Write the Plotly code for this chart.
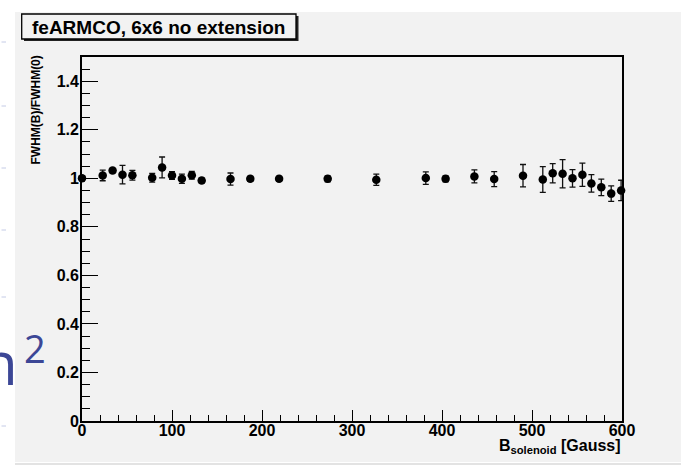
import plotly.graph_objects as go

# Field scan: FWHM ratio vs solenoid field
b_field = [0, 23, 34, 45, 56, 78, 89, 100, 111, 122, 133, 165, 187, 219, 273,
           327, 382, 404, 436, 458, 490, 512, 523, 534, 545, 556, 566, 577, 588, 599]
fwhm_ratio = [1.000, 1.012, 1.032, 1.015, 1.013, 1.002, 1.045, 1.012, 0.998, 1.013,
              0.991, 0.997, 0.998, 0.998, 0.998, 0.994, 1.001, 0.998, 1.008, 0.997,
              1.011, 0.995, 1.021, 1.019, 1.000, 1.015, 0.979, 0.963, 0.937, 0.950]
fwhm_err = [0.010, 0.022, 0.008, 0.038, 0.020, 0.018, 0.043, 0.016, 0.019, 0.016,
            0.010, 0.025, 0.010, 0.010, 0.012, 0.023, 0.026, 0.012, 0.027, 0.031,
            0.046, 0.053, 0.040, 0.058, 0.036, 0.048, 0.036, 0.034, 0.032, 0.042]

x_ticks = [0, 100, 200, 300, 400, 500, 600]
y_ticks = [0, 0.2, 0.4, 0.6, 0.8, 1.0, 1.2, 1.4]

W, H = 681, 468
L, R, T, B = 82, 59, 57, 47
PW, PH = W - L - R, H - T - B


def px(x):
    return (x - L) / PW


def py(y):
    return (H - B - y) / PH


BG = "#f2f2f2"
FONT = "Liberation Sans"

fig = go.Figure()
fig.add_trace(go.Scatter(
    x=b_field, y=fwhm_ratio, mode="markers",
    marker=dict(color="black", size=8.5),
    error_y=dict(type="data", array=fwhm_err, color="#111", thickness=1.3, width=3),
    cliponaxis=False, showlegend=False,
))

shapes = [
    # canvas background
    dict(type="rect", xref="paper", yref="paper", x0=px(15), x1=px(W + 5),
         y0=py(462), y1=py(12), fillcolor=BG, line=dict(width=0), layer="below"),
    dict(type="line", xref="paper", yref="paper", x0=px(15), x1=px(W + 5),
         y0=py(464), y1=py(464), line=dict(color="#c8c8c8", width=1.2)),
    # title box shadow and frame
    dict(type="rect", xref="paper", yref="paper", x0=px(24), x1=px(298.5),
         y0=py(41), y1=py(16), fillcolor="#222", line=dict(width=0)),
    dict(type="rect", xref="paper", yref="paper", x0=px(21.7), x1=px(296),
         y0=py(39), y1=py(14), fillcolor=BG, line=dict(color="black", width=1.3)),
]
# faint dashes along the left margin
for yy in [42, 106, 168, 230, 297, 426]:
    shapes.append(dict(type="line", xref="paper", yref="paper", x0=px(1.5), x1=px(6),
                       y0=py(yy), y1=py(yy), line=dict(color="#c4cbe6", width=1)))

annotations = [
    dict(text="feARMCO, 6x6 no extension", xref="paper", yref="paper",
         x=px(158), y=py(27), xanchor="center", yanchor="middle", showarrow=False,
         font=dict(family=FONT, size=19, color="black", weight="bold")),
    dict(text="FWHM(B)/FWHM(0)", xref="paper", yref="paper", textangle=-90,
         x=px(35), y=py(54), xanchor="center", yanchor="top", showarrow=False,
         font=dict(family=FONT, size=12, color="black", weight="bold")),
    dict(text="B<sub>solenoid</sub> [Gauss]", xref="paper", yref="paper",
         x=px(623), y=py(435), xanchor="right", yanchor="top", showarrow=False,
         font=dict(family=FONT, size=16, color="black", weight="bold")),
    dict(text="n", xref="paper", yref="paper",
         x=px(20), y=py(405), xanchor="right", yanchor="bottom", showarrow=False,
         font=dict(family="Open Sans", size=60, color="#3c4796")),
    dict(text="2", xref="paper", yref="paper",
         x=px(22), y=py(376), xanchor="left", yanchor="bottom", showarrow=False,
         font=dict(family="Open Sans", size=38, color="#3c4796")),
]

tickfont = dict(family=FONT, size=16, color="black", weight="bold")

fig.update_layout(
    width=W, height=H,
    margin=dict(l=L, r=R, t=T, b=B, pad=0),
    paper_bgcolor="white", plot_bgcolor="rgba(0,0,0,0)",
    shapes=shapes, annotations=annotations,
    xaxis=dict(range=[0, 600], tickvals=x_ticks, ticks="inside", ticklen=11,
               tickwidth=1.3, tickcolor="black", showgrid=False, zeroline=False,
               showline=True, linecolor="black", linewidth=1.8, mirror=True,
               tickfont=tickfont, ticklabelstandoff=-6,
               minor=dict(dtick=20, ticks="inside", ticklen=6, tickwidth=1,
                          tickcolor="black", showgrid=False)),
    yaxis=dict(range=[0, 1.5], tickvals=y_ticks, ticks="inside", ticklen=16,
               tickwidth=1.3, tickcolor="black", showgrid=False, zeroline=False,
               showline=True, linecolor="black", linewidth=1.8, mirror=True,
               tickfont=tickfont, ticklabelstandoff=-2,
               minor=dict(dtick=0.05, ticks="inside", ticklen=8, tickwidth=1,
                          tickcolor="black", showgrid=False)),
)

fig.write_html("out.html")
